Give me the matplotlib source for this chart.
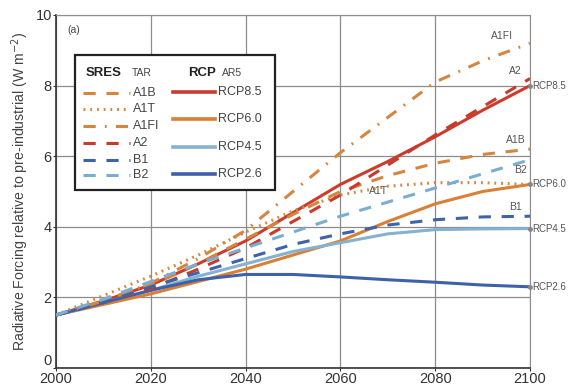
import numpy as np
import matplotlib
matplotlib.use("Agg")
import matplotlib.pyplot as plt
from matplotlib.lines import Line2D
from matplotlib.patches import Rectangle

plt.rcParams['font.family'] = ['Liberation Sans', 'DejaVu Sans']

years = [2000, 2010, 2020, 2030, 2040, 2050, 2060, 2070, 2080, 2090, 2100]

# SRES scenarios (TAR)
a1b = [1.5, 1.9, 2.35, 2.95, 3.65, 4.35, 5.0, 5.45, 5.8, 6.05, 6.2]
a1t = [1.5, 2.05, 2.6, 3.2, 3.85, 4.45, 4.9, 5.15, 5.25, 5.25, 5.2]
a1fi = [1.5, 1.9, 2.4, 3.1, 3.9, 5.0, 6.1, 7.1, 8.1, 8.7, 9.2]
a2 = [1.5, 1.85, 2.25, 2.8, 3.4, 4.15, 4.9, 5.75, 6.6, 7.4, 8.2]
b1 = [1.5, 1.85, 2.3, 2.7, 3.1, 3.5, 3.8, 4.05, 4.2, 4.28, 4.3]
b2 = [1.5, 1.95, 2.45, 2.95, 3.4, 3.85, 4.3, 4.7, 5.1, 5.5, 5.9]

# RCP scenarios (AR5)
rcp85 = [1.5, 1.9, 2.35, 2.95, 3.6, 4.4, 5.2, 5.85, 6.55, 7.3, 8.0]
rcp60 = [1.5, 1.8, 2.1, 2.45, 2.8, 3.2, 3.6, 4.15, 4.65, 5.0, 5.2]
rcp45 = [1.5, 1.85, 2.2, 2.6, 2.95, 3.3, 3.55, 3.8, 3.92, 3.94, 3.95]
rcp26 = [1.5, 1.85, 2.2, 2.5, 2.65, 2.65, 2.58, 2.5, 2.43, 2.35, 2.3]

sres_names = ['A1B', 'A1T', 'A1FI', 'A2', 'B1', 'B2']
rcp_names = ['RCP8.5', 'RCP6.0', 'RCP4.5', 'RCP2.6']

orange = '#d4863f'
red = '#c73a2c'
dblue = '#3f63a9'
lblue = '#7aaed0'

sres_style = {
    'A1B': dict(color=orange, ls=(0, (4, 3.5))),
    'A1T': dict(color=orange, ls=(0, (0.6, 1.6))),
    'A1FI': dict(color=orange, ls=(0, (4, 3, 0.6, 3))),
    'A2': dict(color=red, ls=(0, (4, 3.5))),
    'B1': dict(color=dblue, ls=(0, (4, 3.5))),
    'B2': dict(color=lblue, ls=(0, (4, 3.5))),
}
rcp_color = {'RCP8.5': '#cc3b2c', 'RCP6.0': '#da7f33', 'RCP4.5': '#85b2cf', 'RCP2.6': '#3d61aa'}

sres_data = dict(zip(sres_names, [a1b, a1t, a1fi, a2, b1, b2]))
rcp_data = dict(zip(rcp_names, [rcp85, rcp60, rcp45, rcp26]))

fig = plt.figure(figsize=(5.68, 3.85), dpi=100)
ax = fig.add_axes([56 / 568, 17 / 385, 474 / 568, 353 / 385])

for name in rcp_names:
    ax.plot(years, rcp_data[name], color=rcp_color[name], lw=2.2, solid_capstyle='round', zorder=3)
for name in sres_names:
    st = sres_style[name]
    ax.plot(years, sres_data[name], color=st['color'], ls=st['ls'], lw=2.2, zorder=4)

# end labels for RCP
for name in rcp_names:
    v = rcp_data[name][-1]
    ax.plot([years[-1]], [v], 'o', ms=2.5, color='#888888', clip_on=False, zorder=5)
    ax.annotate(name, (years[-1], v), xytext=(1.5, 0), textcoords='offset points',
                va='center', ha='left', fontsize=7, color='#555555', annotation_clip=False)

# inline SRES labels
inline = {'A1FI': (2094, 9.4), 'A2': (2097, 8.4), 'A1B': (2097, 6.45),
          'B2': (2098, 5.6), 'A1T': (2068, 5.0), 'B1': (2097, 4.55)}
for name, (x, y) in inline.items():
    ax.text(x, y, name, fontsize=7.5, color='#555555', ha='center', va='center', zorder=6)

ax.set_xlim(2000, 2100)
ax.set_ylim(0, 10)
ax.set_xticks(range(2000, 2101, 20))
ax.set_yticks(range(0, 11, 2))
ax.grid(True, color='#8c8c8c', lw=0.9)
ax.set_axisbelow(True)
ax.tick_params(labelsize=10.5, colors='#333333', length=2, pad=1)
ax.get_yticklabels()[0].set_va('bottom')
for s in ['top', 'right']:
    ax.spines[s].set_color('#8c8c8c')
for s in ['left', 'bottom']:
    ax.spines[s].set_color('#333333')
    ax.spines[s].set_linewidth(1.2)
ax.set_ylabel('Radiative Forcing relative to pre-industrial (W m$^{-2}$)', fontsize=10.2,
              color='#444444', labelpad=3)
ax.text(0.025, 0.958, '(a)', transform=ax.transAxes, fontsize=7.5, color='#444444', va='center')

# legend box
box = Rectangle((0.040, 0.504), 0.422, 0.383, transform=ax.transAxes, facecolor='white',
                edgecolor='#222222', lw=1.6, zorder=7)
ax.add_patch(box)
ax.text(0.062, 0.836, 'SRES', transform=ax.transAxes, fontsize=9.5, weight='bold',
        color='#222222', va='center', zorder=8)
ax.text(0.160, 0.836, 'TAR', transform=ax.transAxes, fontsize=7.5, color='#444444', va='center', zorder=8)
ax.text(0.278, 0.836, 'RCP', transform=ax.transAxes, fontsize=9.5, weight='bold',
        color='#222222', va='center', zorder=8)
ax.text(0.350, 0.836, 'AR5', transform=ax.transAxes, fontsize=7.5, color='#444444', va='center', zorder=8)

sres_rows = [0.779, 0.733, 0.686, 0.637, 0.590, 0.547]
for name, yy in zip(sres_names, sres_rows):
    st = sres_style[name]
    ax.add_line(Line2D([0.057, 0.156], [yy, yy], transform=ax.transAxes, color=st['color'],
                       ls=st['ls'], lw=2.2, zorder=8))
    ax.text(0.162, yy, name, transform=ax.transAxes, fontsize=9, color='#444444',
            va='center', zorder=8)

rcp_rows = [0.782, 0.705, 0.626, 0.550]
for name, yy in zip(rcp_names, rcp_rows):
    ax.add_line(Line2D([0.247, 0.335], [yy, yy], transform=ax.transAxes, color=rcp_color[name],
                       lw=2.6, zorder=8))
    ax.text(0.342, yy, name, transform=ax.transAxes, fontsize=9, color='#444444',
            va='center', zorder=8)

fig.savefig('out.png', dpi=100)
